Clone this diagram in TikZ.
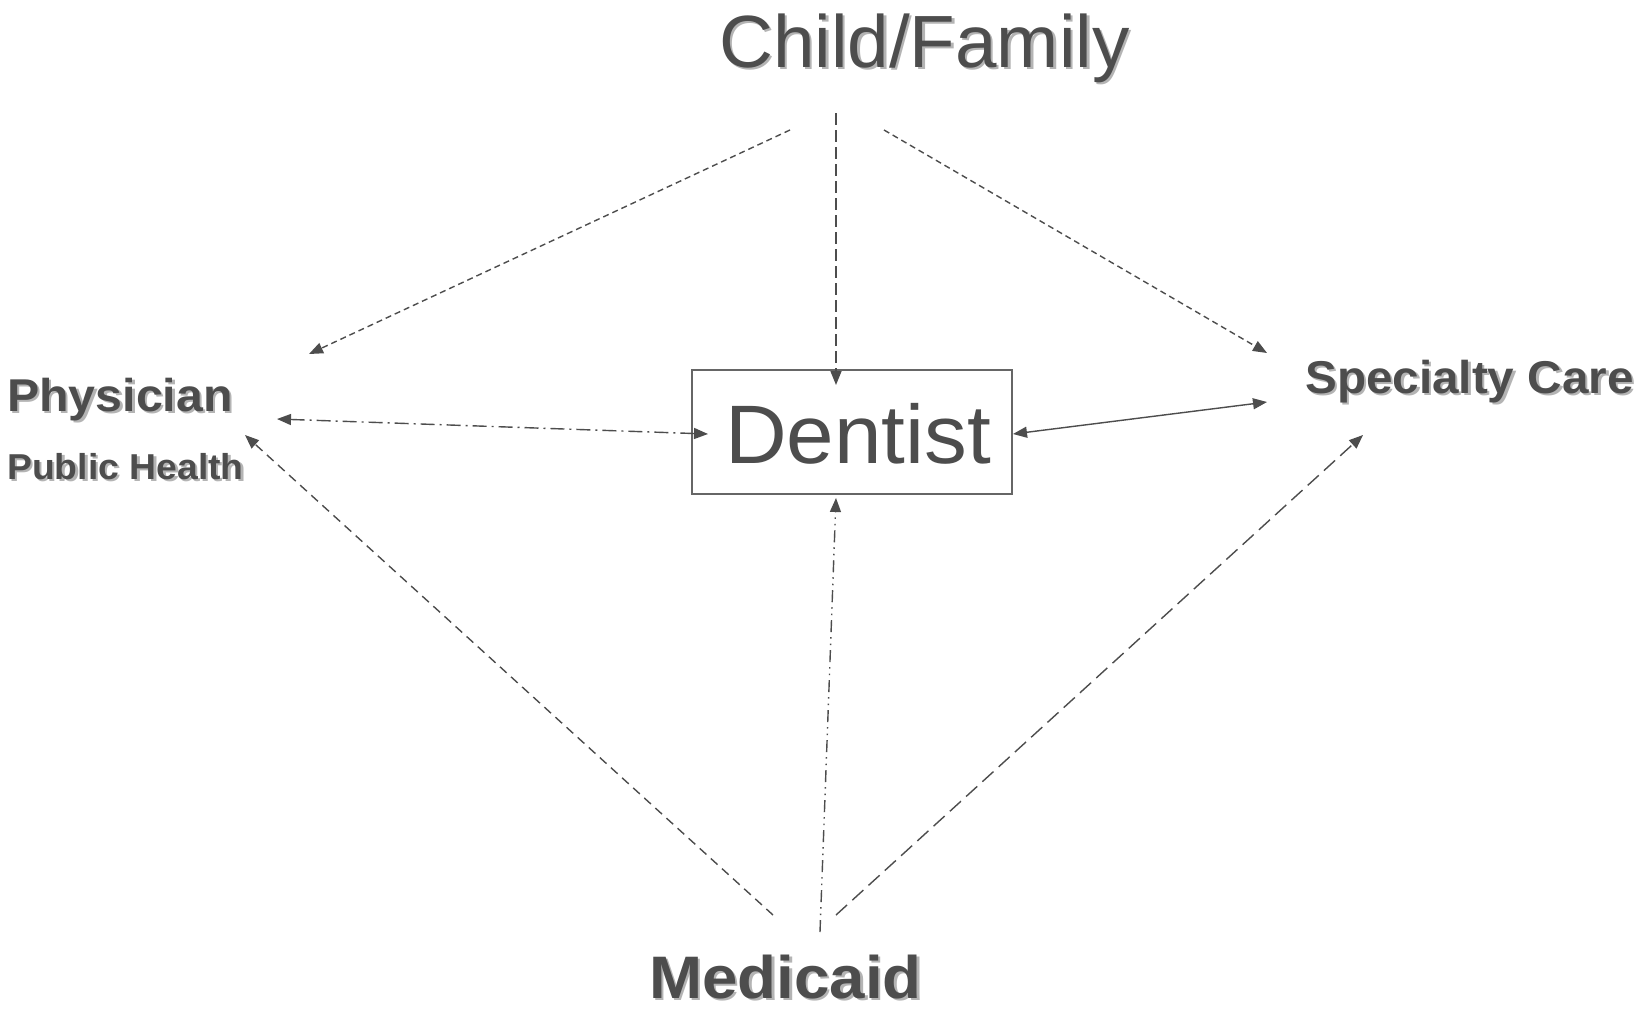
\documentclass[tikz,border=0pt]{standalone}
\usepackage{fontspec}
\usepackage{graphicx}
\setmainfont{Liberation Sans}
\usetikzlibrary{arrows.meta}
\definecolor{ink}{HTML}{4D4D4D}
\definecolor{shade}{HTML}{B4B4B4}
\definecolor{boxline}{HTML}{666666}
\newcommand\wtext[2]{\scalebox{#1}[1]{#2}}
\begin{document}
\begin{tikzpicture}[x=1pt,y=-1pt,
  lbl/.style={inner sep=0pt,anchor=base west,text=ink},
  shd/.style={inner sep=0pt,anchor=base west,text=shade,xshift=2.5pt,yshift=-2.5pt},
  conn/.style={draw=ink,line width=1.4pt,-{Triangle[length=14pt,width=11pt]}},
  both/.style={conn,{Triangle[length=14pt,width=11pt]}-{Triangle[length=14pt,width=11pt]}},
  shortdash/.style={dash pattern=on 6pt off 4pt},
  longdash/.style={dash pattern=on 12pt off 5pt},
  thindash/.style={dash pattern=on 9pt off 6pt},
  widedash/.style={dash pattern=on 15pt off 7pt},
  dashdot/.style={dash pattern=on 14pt off 5pt on 2pt off 5pt},
  dashdotdot/.style={dash pattern=on 12pt off 5pt on 1.5pt off 5pt on 1.5pt off 5pt}]
\useasboundingbox[fill=white] (0,0) rectangle (1638,1012);
% labels
\node[shd] at (719,67) {\fontsize{74}{80}\selectfont\wtext{1.008}{Child/Family}};
\node[lbl] (cf) at (719,67) {\fontsize{74}{80}\selectfont\wtext{1.008}{Child/Family}};
\node[shd] at (7,411) {\fontsize{46}{50}\selectfont\bfseries\wtext{1.05}{Physician}};
\node[lbl] (phys) at (7,411) {\fontsize{46}{50}\selectfont\bfseries\wtext{1.05}{Physician}};
\node[shd] at (7,479) {\fontsize{36}{40}\selectfont\bfseries\wtext{1.037}{Public Health}};
\node[lbl] (ph) at (7,479) {\fontsize{36}{40}\selectfont\bfseries\wtext{1.037}{Public Health}};
\node[shd] at (1305,393) {\fontsize{46}{50}\selectfont\bfseries\wtext{1.036}{Specialty Care}};
\node[lbl] (spec) at (1305,393) {\fontsize{46}{50}\selectfont\bfseries\wtext{1.036}{Specialty Care}};
\node[shd] at (649,998) {\fontsize{60}{64}\selectfont\bfseries\wtext{1.062}{Medicaid}};
\node[lbl] (med) at (649,998) {\fontsize{60}{64}\selectfont\bfseries\wtext{1.062}{Medicaid}};
% dentist box
\node[draw=boxline,line width=1.5pt,minimum width=320pt,minimum height=124pt,inner sep=0pt] (box) at (852,432) {};
\node[lbl] (dent) at (725,463) {\fontsize{83}{88}\selectfont\wtext{1.03}{Dentist}};
% connector end points
\coordinate (cfL) at (790,130);
\coordinate (cfM) at (836,113);
\coordinate (cfR) at (884,130);
\coordinate (physT) at (309,354);
\coordinate (physM) at (277,419);
\coordinate (physB) at (245,435);
\coordinate (specT) at (1267,353);
\coordinate (specM) at (1267,402);
\coordinate (specB) at (1363,435);
\coordinate (dentT) at (836,385);
\coordinate (dentL) at (708,434);
\coordinate (dentR) at (1013,434);
\coordinate (dentB) at (836,498);
\coordinate (medL) at (773,915);
\coordinate (medM) at (820,932);
\coordinate (medR) at (836,915);
% connectors
\draw[conn,shortdash] (cfL) -- (physT);
\draw[conn,longdash] (cfM) -- (dentT);
\draw[conn,shortdash] (cfR) -- (specT);
\draw[both] (dentR) -- (specM);
\draw[both,dashdot] (physM) -- (dentL);
\draw[conn,thindash] (medL) -- (physB);
\draw[conn,dashdotdot] (medM) -- (dentB);
\draw[conn,widedash] (medR) -- (specB);
\end{tikzpicture}
\end{document}
